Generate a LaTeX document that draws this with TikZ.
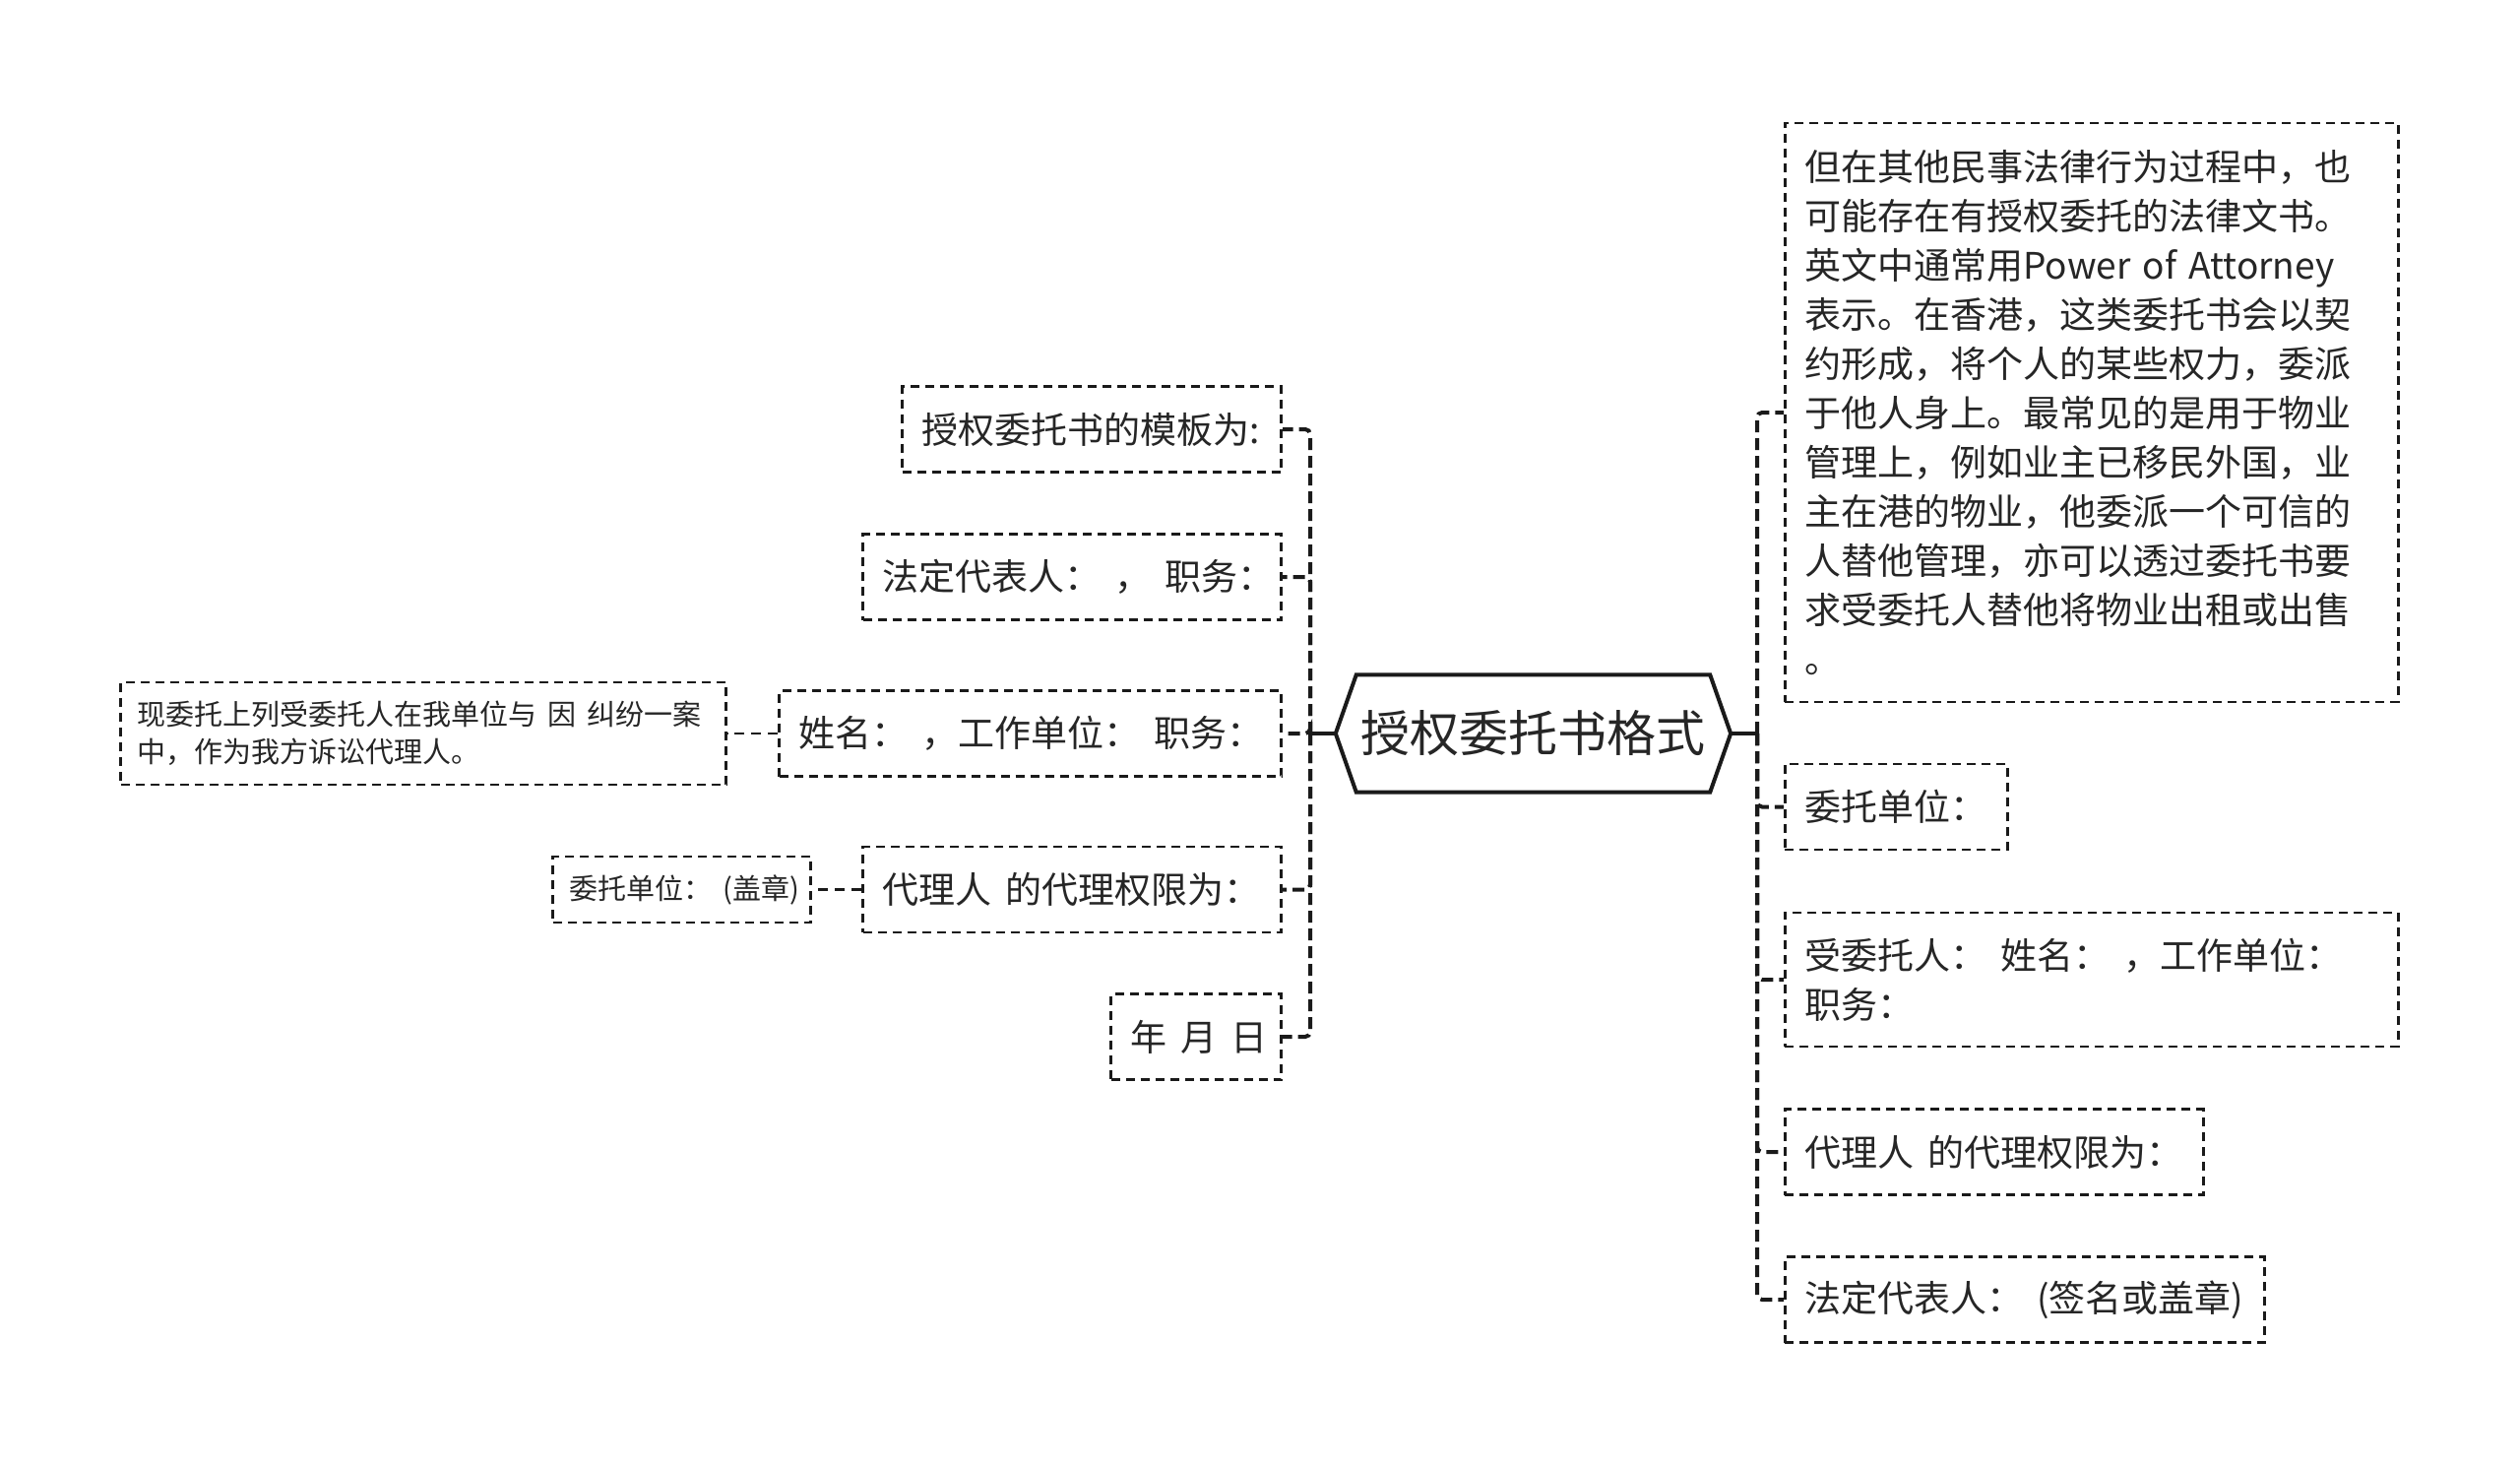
\documentclass[tikz,border=0pt]{standalone}
\usepackage{fontspec}
\newfontfamily\cjk{Noto Sans CJK SC}
\usetikzlibrary{calc}
\definecolor{ln}{HTML}{1A1A1A}
\definecolor{tx}{HTML}{262626}
\newcommand\gp{\nobreak\hspace{0.38em}\nobreak}
\tikzset{
  box/.style={draw=ln, line width=2.8pt, dash pattern=on 9pt off 6pt, fill=white,
    font=\cjk\fontsize{37}{50}\selectfont, text=tx, align=left,
    inner xsep=20pt, inner ysep=0pt, minimum height=87pt},
  smallbox/.style={box, font=\cjk\fontsize{29}{38}\selectfont, inner xsep=17pt},
  conn/.style={draw=ln, line width=4pt, dash pattern=on 12pt off 6pt, rounded corners=5pt},
  sconn/.style={draw=ln, line width=2.8pt, dash pattern=on 10pt off 7pt},
  solidconn/.style={draw=ln, line width=4pt},
  rootline/.style={draw=ln, line width=4pt, fill=white, line join=miter}
}
\begin{document}
\begin{tikzpicture}[x=1pt,y=-1pt]
\useasboundingbox (0,0) rectangle (2560,1490);

% root
\node[minimum width=401pt, minimum height=119pt, inner sep=0pt] (root) at (1557.5,745) {};
\draw[rootline] (root.west) -- ([xshift=21pt]root.north west) -- ([xshift=-21pt]root.north east)
  -- (root.east) -- ([xshift=-21pt]root.south east) -- ([xshift=21pt]root.south west) -- cycle;
\node[font=\cjk\fontsize{50}{60}\selectfont, text=tx, inner sep=0pt] (roottext) at (root.center) {授权委托书格式};

% left children
\node[box, anchor=east, text width=345pt] (l1) at (1303,436) {授权委托书的模板为:};
\node[box, anchor=east, text width=385pt] (l2) at (1303,586) {法定代表人：\gp{}，\gp{}职务：};
\node[box, anchor=east, text width=470pt] (l3) at (1303,745) {姓名：\gp{}，工作单位：\gp{}职务：};
\node[box, anchor=east, text width=385pt] (l4) at (1303,903.5) {代理人\gp{}的代理权限为：};
\node[box, anchor=east, text width=133pt] (l5) at (1303,1053) {年\gp{}月\gp{}日};

% grandchildren
\node[smallbox, anchor=east, text width=581pt, minimum height=104pt] (l6) at (739,745)
  {现委托上列受委托人在我单位与\gp{}因\gp{}纠纷一案\\中，作为我方诉讼代理人。};
\node[smallbox, anchor=east, text width=228pt, minimum height=67pt] (l7) at (825,903.5)
  {委托单位：\gp{}(盖章)};

% right children
\node[box, anchor=west, text width=583pt, minimum height=588pt] (r1) at (1812,419)
  {但在其他民事法律行为过程中，也\\
   可能存在有授权委托的法律文书。\\
   英文中通常用Power~of~Attorney\\
   表示。在香港，这类委托书会以契\\
   约形成，将个人的某些权力，委派\\
   于他人身上。最常见的是用于物业\\
   管理上，例如业主已移民外国，业\\
   主在港的物业，他委派一个可信的\\
   人替他管理，亦可以透过委托书要\\
   求受委托人替他将物业出租或出售\\
   。};
\node[box, anchor=west, text width=186pt] (r2) at (1812,819.5) {委托单位：};
\node[box, anchor=west, text width=583pt, minimum height=136pt] (r3) at (1812,995)
  {受委托人：\gp{}姓名：\gp{}，工作单位：\\职务：};
\node[box, anchor=west, text width=385pt] (r4) at (1812,1170) {代理人\gp{}的代理权限为：};
\node[box, anchor=west, text width=447pt] (r5) at (1812,1320) {法定代表人：\gp{}(签名或盖章)};

% connectors
\coordinate (lt) at (1331,745);
\coordinate (rt) at (1785,745);
\draw[solidconn] (root.west) -- (lt);
\draw[solidconn] (root.east) -- (rt);
\foreach \n in {l1,l2,l3,l4,l5} \draw[conn] (lt) |- (\n.east);
\foreach \n in {r1,r2,r3,r4,r5} \draw[conn] (rt) |- (\n.west);
\draw[sconn] (l3.west) -- (l6.east);
\draw[sconn] (l4.west) -- (l7.east);
\end{tikzpicture}
\end{document}
